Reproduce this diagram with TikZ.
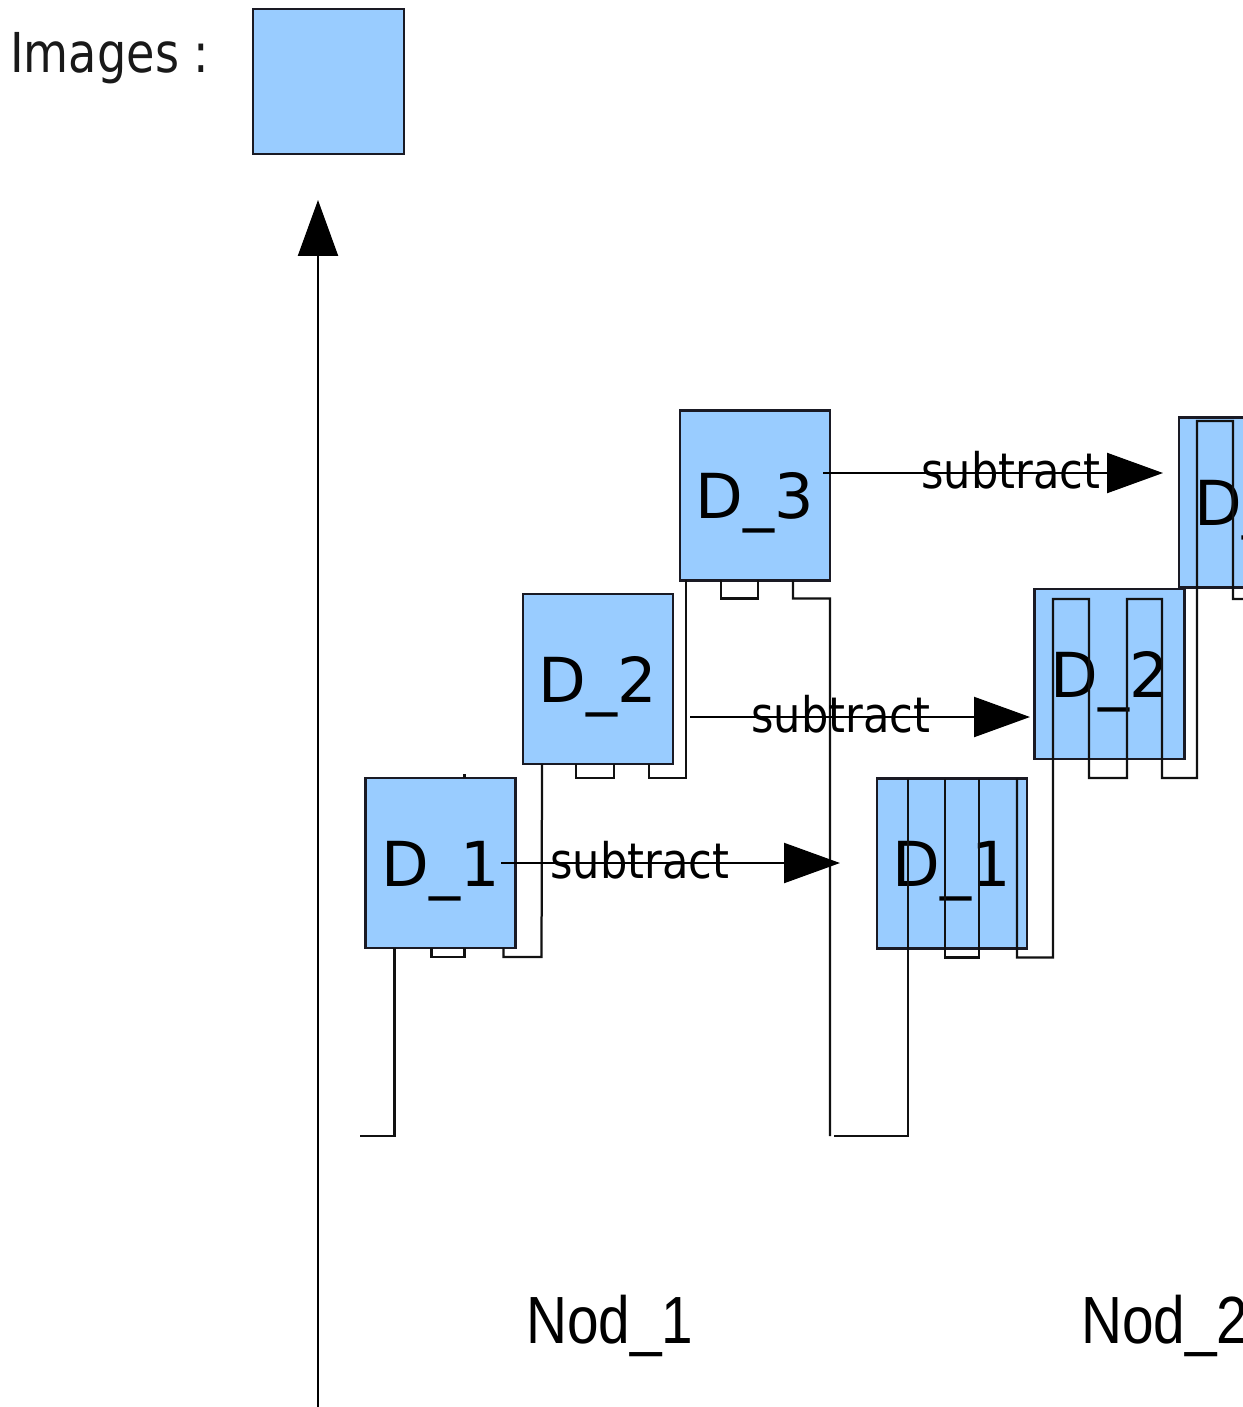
\documentclass[tikz,border=0pt]{standalone}
\usepackage{fontspec}
\setmainfont{DejaVu Sans}
\newfontfamily\narrowsans{DejaVu Sans}[FakeStretch=0.88]
\newfontfamily\titlesans{DejaVu Sans}[FakeStretch=0.84]
\newfontfamily\nodfont{Liberation Sans}[FakeStretch=0.85]
\usetikzlibrary{arrows.meta,calc}

\definecolor{boxfill}{HTML}{99CCFF}
\definecolor{boxline}{HTML}{1A1A24}
\definecolor{wire}{HTML}{111111}

\begin{document}
\begin{tikzpicture}[x=0.02cm, y=-0.02cm,
  dbox/.style={draw=boxline, fill=boxfill, line width=0.045cm,
    minimum width=3cm, minimum height=3.4cm, inner sep=0pt, outer sep=0pt,
    text height=0.92cm, text depth=0pt,
    font=\fontsize{35.3pt}{40pt}\selectfont},
  legendbox/.style={draw=boxline, fill=boxfill, line width=0.045cm,
    minimum width=3.02cm, minimum height=2.9cm, inner sep=0pt, outer sep=0pt},
  wireline/.style={draw=wire, line width=0.045cm},
  bigtip/.style={-{Triangle[length=1.12cm, width=0.8cm]}, draw=black, fill=black, line width=0.045cm},
  oplabel/.style={anchor=base west, inner sep=0pt, text=black,
    font=\narrowsans\fontsize{27.9pt}{32pt}\selectfont},
  nodlabel/.style={anchor=base west, inner sep=0pt, text=black,
    font=\nodfont\fontsize{38pt}{44pt}\selectfont},
  titlelabel/.style={anchor=base west, inner sep=0pt, text=black!90,
    font=\titlesans\fontsize{31.3pt}{36pt}\selectfont}
]
\useasboundingbox (0,0) rectangle (1242,1407);

% legend
\node[titlelabel] (imgtitle) at (10,72) {Images :};
\node[legendbox] (legend) at (328.5,81.5) {};

% vertical axis
\coordinate (axisbot) at (318,1420);
\coordinate (axistop) at (318,200);
\draw[bigtip] (axisbot) -- (axistop);

% result images (drawn below their wires)
\node[dbox] (r1) at (952,863.5) {D\_1};
\node[dbox] (r2) at (1109.5,674) {D\_2};
\node[dbox] (r3) at (1254,502.5) {D\_3};

% ground points of the wires
\coordinate (gnd1) at (360,1136);
\coordinate (gnd2) at (834,1136);
\coordinate (gnd3) at (830,1136);

% source images
\node[dbox] (d1) at (440.5,863) {D\_1};
\node[dbox] (d2) at (598,679) {D\_2};
\node[dbox] (d3) at (755,495.5) {D\_3};

% wires of the source images
\draw[wireline] ($(d1.south west)+(29,0)$) |- (gnd1);
\draw[wireline] ($(d1.south west)+(66,0)$) -- ++(0,9) -- ++(33,0) -- ++(0,-9);
\draw[wireline] ($(d1.north west)+(99,0)$) -- ++(0,-4);
\draw[wireline] ($(d1.south west)+(138,0)$) -- ++(0,9) -- ++(38,0) -- ($(d2.south west)+(19,0)$);
\draw[wireline] ($(d2.south west)+(53,0)$) -- ++(0,14) -- ++(38,0) -- ++(0,-14);
\draw[wireline] ($(d2.south west)+(126,0)$) -- ++(0,14) -- ++(37,0) -- ($(d3.south west)+(6,0)$);
\draw[wireline] ($(d3.south west)+(41,0)$) -- ++(0,18) -- ++(37,0) -- ++(0,-18);
\draw[wireline] ($(d3.south west)+(113,0)$) -- ++(0,18) -- ++(37,0) -- (gnd3);

% wires of the result images
\draw[wireline] ($(r1.north west)+(31,0)$) |- (gnd2);
\draw[wireline] ($(r1.north west)+(68,0)$) -- ++(0,179) -- ++(34,0) -- ++(0,-179);
\draw[wireline] ($(r1.north west)+(140,0)$) -- ++(0,179) -- ++(36,0)
  -- (1053,599) -- ++(36,0) -- ++(0,179) -- ++(38,0) -- ++(0,-179)
  -- ++(35,0) -- ++(0,179) -- ++(35,0) -- (1197,421) -- ++(36,0)
  -- ++(0,178) -- ++(20,0);

% subtraction arrows
\coordinate (s1) at (501,863);
\coordinate (e1) at (840,863);
\coordinate (s2) at (690,717);
\coordinate (e2) at (1030,717);
\coordinate (s3) at (823,473);
\coordinate (e3) at (1163,473);
\draw[bigtip] (s1) -- (e1);
\draw[bigtip] (s2) -- (e2);
\draw[bigtip] (s3) -- (e3);
\node[oplabel] (op1) at (550,878) {subtract};
\node[oplabel] (op2) at (751,732) {subtract};
\node[oplabel] (op3) at (921,488) {subtract};

% node captions
\node[nodlabel] (nod1) at (526,1343) {Nod\_1};
\node[nodlabel] (nod2) at (1081,1343) {Nod\_2};
\end{tikzpicture}
\end{document}
